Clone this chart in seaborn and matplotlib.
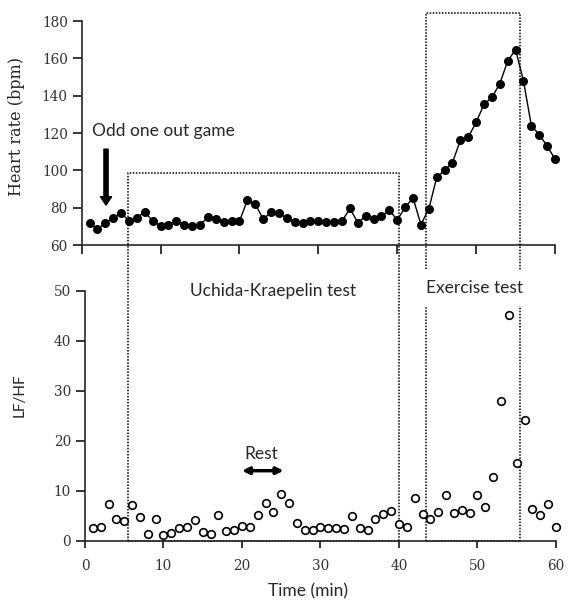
import numpy as np
import pandas as pd
import matplotlib.pyplot as plt
import matplotlib.transforms as mtransforms
import seaborn as sns

minutes = list(range(1, 61))
heart_rate = [72, 68.4, 72, 74.3, 77.3, 72.8, 74.6, 77.8, 72.8, 70.3,
              71, 73, 71, 70.3, 71, 74.8, 73.9, 72.1, 72.8, 72.8,
              84, 82, 73.9, 77.5, 77, 74.4, 72.1, 72, 72.8, 72.8,
              72.5, 72.1, 72.8, 79.6, 72, 75.5, 73.9, 75.5, 78.7, 73.4,
              80.2, 85.3, 71, 79.3, 96.2, 100.1, 104.2, 116.1, 117.8, 125.8,
              135.4, 139.1, 146.5, 158.6, 164.8, 148.1, 124, 119.2, 113.1, 106.1]
lf_hf = [2.5, 2.8, 7.3, 4.3, 3.9, 7.1, 4.7, 1.3, 4.3, 1.1,
         1.5, 2.5, 2.7, 4.1, 1.8, 1.3, 5.1, 2.0, 2.2, 2.9,
         2.7, 5.2, 7.5, 5.8, 9.4, 7.5, 3.5, 2.1, 2.2, 2.8,
         2.5, 2.5, 2.3, 4.9, 2.6, 2.1, 4.3, 5.3, 5.9, 3.3,
         2.8, 8.5, 5.3, 4.3, 5.7, 9.1, 5.6, 6.1, 5.6, 9.1,
         6.7, 12.7, 28.0, 45.1, 15.5, 24.1, 6.3, 5.1, 7.3, 2.8]

# test periods (min) and box tops
uk_test = (5.5, 40.0)
exercise_test = (43.5, 55.4)
uk_box_top_bpm = 98.4
ex_box_top_bpm = 184.3
rest = (20, 25.3)

df = pd.DataFrame({'Time': minutes, 'HR': heart_rate, 'LFHF': lf_hf})

sns.set_style("ticks")
plt.rcParams['font.family'] = ['Lato', 'DejaVu Sans']
serif = 'DejaVu Serif'

fig = plt.figure(figsize=(5.73, 6.05), dpi=100)
ax1 = fig.add_axes([0.1426, 0.595, 0.826, 0.370])
ax2 = fig.add_axes([0.1483, 0.1063, 0.822, 0.4132])
ax2.patch.set_alpha(0)

# heart rate
sns.lineplot(data=df, x='Time', y='HR', ax=ax1, color='black', lw=1,
             marker='o', markersize=6.5, markeredgewidth=0, clip_on=False)
ax1.set_xlim(0, 60)
ax1.set_ylim(60, 180)
ax1.set_xticks(range(0, 61, 10))
ax1.set_xticklabels([])
ax1.set_yticks(range(60, 181, 20))
ax1.set_xlabel('')
ax1.set_ylabel('Heart rate (bpm)', family=serif, fontsize=11.5)
ax1.yaxis.set_label_coords(-0.12, 0.53)
sns.despine(ax=ax1)

# LF/HF
sns.scatterplot(data=df, x='Time', y='LFHF', ax=ax2, s=30, facecolor='white',
                edgecolor='black', linewidth=1.2, zorder=4, clip_on=False)
ax2.set_xlim(0, 60)
ax2.set_ylim(0, 50)
ax2.set_xticks(range(0, 61, 10))
ax2.set_yticks(range(0, 51, 10))
ax2.set_xlabel('Time (min)', fontsize=12.5)
ax2.xaxis.set_label_coords(0.473, -0.172)
ax2.set_ylabel('LF/HF', fontsize=11)
ax2.yaxis.set_label_coords(-0.123, 0.583)
sns.despine(ax=ax2)

for ax in (ax1, ax2):
    ax.spines['left'].set_linewidth(1.2)
    ax.spines['bottom'].set_linewidth(1.2)
    ax.tick_params(labelfontfamily=serif, labelsize=9.8, width=1.1, color='black',
                   labelcolor='#333333')
    ax.tick_params(axis='y', length=6.5, pad=3.5)
ax1.tick_params(axis='x', length=6.5)
ax2.tick_params(axis='x', length=5, pad=8)

# dotted boxes spanning both panels
trans = mtransforms.blended_transform_factory(ax2.transData, fig.transFigure)
to_fig = lambda y: fig.transFigure.inverted().transform(ax1.transData.transform((0, y)))[1]
y_bot = fig.transFigure.inverted().transform(ax2.transData.transform((0, 0)))[1]
dot = dict(color='black', lw=1.1, linestyle=(0, (1, 1)), clip_on=False, zorder=1)
for (x0, x1), top in ((uk_test, uk_box_top_bpm), (exercise_test, ex_box_top_bpm)):
    yt = to_fig(top)
    ax2.plot([x0, x0, x1, x1], [y_bot, yt, yt, y_bot], transform=trans, **dot)
    ax2.plot([x0, x1], [0, 0], **dot)

# annotations
ax1.text(1.27, 121, 'Odd one out game', fontsize=12.5, va='center', ha='left')
ax1.annotate('', xy=(3.08, 81.4), xytext=(3.08, 111.4),
             arrowprops=dict(width=3, headwidth=8, headlength=6, shrink=0, color='black'),
             annotation_clip=False)
ax2.text(24, 49.9, 'Uchida-Kraepelin test', fontsize=12.5, ha='center', va='center',
         clip_on=False)
ax2.text(49.6, 50.5, 'Exercise test', fontsize=12.5, ha='center', va='center',
         zorder=6, clip_on=False,
         bbox=dict(facecolor='white', edgecolor='none', pad=7))
ax2.annotate('', xy=(rest[0], 14), xytext=(rest[1], 14),
             arrowprops=dict(arrowstyle='<|-|>', lw=2.5, mutation_scale=10, color='black',
                             shrinkA=0, shrinkB=0))
ax2.text(22.5, 17.3, 'Rest', fontsize=12.5, ha='center', va='center')

fig.savefig('out.png', dpi=100)
